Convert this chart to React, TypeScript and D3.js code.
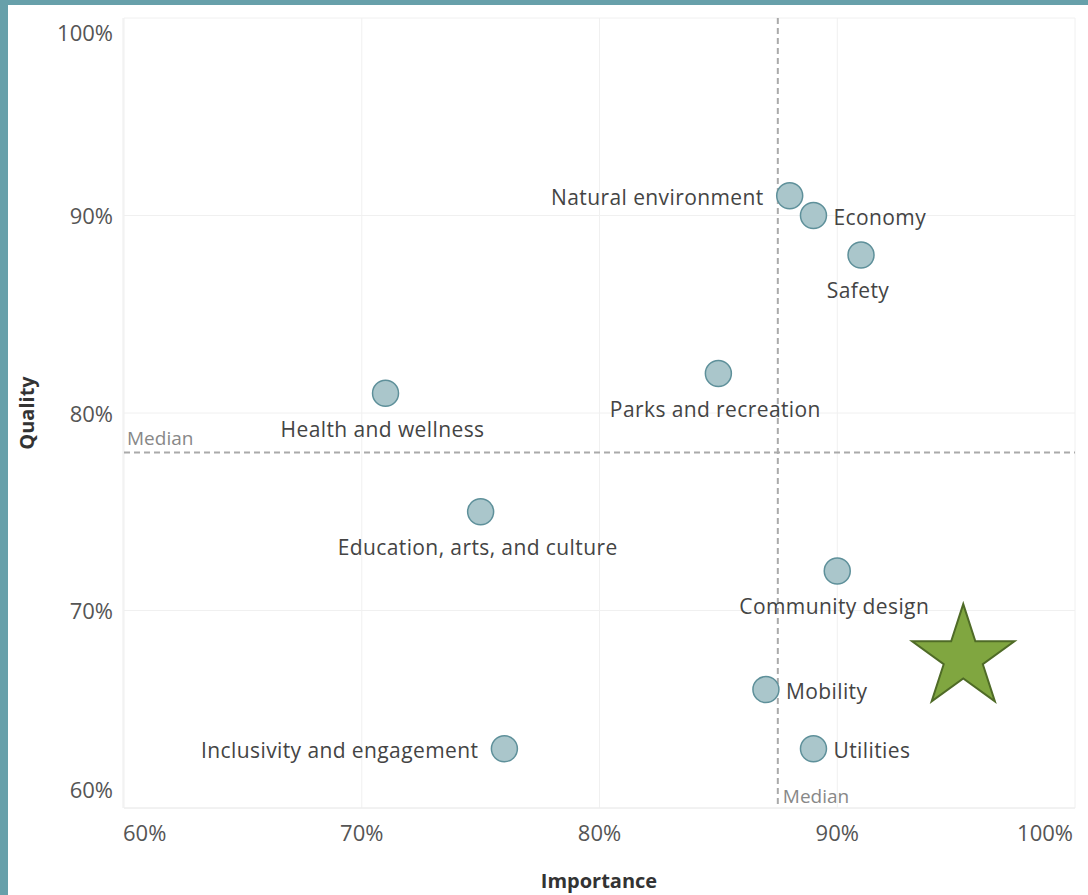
import React, { useEffect, useRef } from "react";
import * as d3 from "d3";

const categories = [
  "Natural environment",
  "Economy",
  "Safety",
  "Parks and recreation",
  "Health and wellness",
  "Education, arts, and culture",
  "Community design",
  "Mobility",
  "Utilities",
  "Inclusivity and engagement",
];
const importance = [0.88, 0.89, 0.91, 0.85, 0.71, 0.75, 0.9, 0.87, 0.89, 0.76];
const quality = [0.91, 0.9, 0.88, 0.82, 0.81, 0.75, 0.72, 0.66, 0.63, 0.63];
// where the label sits relative to its mark
const labelSide = ["left", "right", "below", "below", "below", "below", "below", "right", "right", "left"];
const ticks = [0.6, 0.7, 0.8, 0.9, 1.0];
const starAt = [0.953, 0.676];

const W = 1088;
const H = 895;

const App: React.FC = () => {
  const svgRef = useRef<SVGSVGElement>(null);

  useEffect(() => {
    const svg = d3.select(svgRef.current);
    svg.selectAll("*").remove();

    const x = d3.scaleLinear().domain([0.6, 1.0]).range([124, 1075]);
    const y = d3.scaleLinear().domain([0.6, 1.0]).range([808, 18]);
    const fmt = d3.format(".0%");
    const font = "'Open Sans', sans-serif";

    svg.append("rect").attr("width", W).attr("height", H).attr("fill", "#fff");
    // teal frame
    svg.append("rect").attr("width", W).attr("height", 5).attr("fill", "#67a0aa");
    svg.append("rect").attr("width", 8).attr("height", H).attr("fill", "#67a0aa");

    // grid
    const g = svg.append("g");
    ticks.forEach((t) => {
      g.append("line")
        .attr("x1", x(t)).attr("x2", x(t))
        .attr("y1", y(1)).attr("y2", y(0.6))
        .attr("stroke", "#f0f0f0");
      g.append("line")
        .attr("x1", x(0.6)).attr("x2", x(1))
        .attr("y1", y(t)).attr("y2", y(t))
        .attr("stroke", "#f0f0f0");
    });
    g.append("line").attr("x1", x(0.6) - 1).attr("x2", x(0.6) - 1)
      .attr("y1", y(1)).attr("y2", y(0.6)).attr("stroke", "#ececec");
    g.append("line").attr("x1", x(0.6)).attr("x2", x(1))
      .attr("y1", y(0.6)).attr("y2", y(0.6)).attr("stroke", "#ececec");

    // tick labels
    ticks.forEach((t, i) => {
      svg.append("text")
        .attr("x", 113)
        .attr("y", i === 0 ? y(t) - 18 : i === ticks.length - 1 ? y(t) + 15 : y(t) + 1)
        .attr("dy", "0.35em")
        .attr("text-anchor", "end")
        .attr("font-family", font).attr("font-size", 22).attr("fill", "#555")
        .text(fmt(t));
      svg.append("text")
        .attr("x", i === 0 ? x(t) - 1 : i === ticks.length - 1 ? x(t) - 2 : x(t))
        .attr("y", 841)
        .attr("text-anchor", i === 0 ? "start" : i === ticks.length - 1 ? "end" : "middle")
        .attr("font-family", font).attr("font-size", 22).attr("fill", "#555")
        .text(fmt(t));
    });

    // axis titles
    svg.append("text")
      .attr("transform", `translate(34,${(y(0.6) + y(1)) / 2}) rotate(-90)`)
      .attr("text-anchor", "middle")
      .attr("font-family", font).attr("font-size", 20).attr("font-weight", "bold").attr("fill", "#333")
      .text("Quality");
    svg.append("text")
      .attr("x", 599).attr("y", 888)
      .attr("text-anchor", "middle")
      .attr("font-family", font).attr("font-size", 20).attr("font-weight", "bold").attr("fill", "#333")
      .text("Importance");

    // median reference lines
    const medX = d3.median(importance) as number;
    const medY = d3.median(quality) as number;
    svg.append("line")
      .attr("x1", x(medX)).attr("x2", x(medX))
      .attr("y1", y(1)).attr("y2", y(0.6))
      .attr("stroke", "#aaa").attr("stroke-width", 2).attr("stroke-dasharray", "6,4");
    svg.append("line")
      .attr("x1", x(0.6)).attr("x2", x(1))
      .attr("y1", y(medY)).attr("y2", y(medY))
      .attr("stroke", "#aaa").attr("stroke-width", 2).attr("stroke-dasharray", "6,4");
    svg.append("text")
      .attr("x", x(0.6) + 3).attr("y", y(medY) - 8)
      .attr("font-family", font).attr("font-size", 19).attr("fill", "#888")
      .text("Median");
    svg.append("text")
      .attr("x", x(medX) + 5).attr("y", y(0.6) - 5)
      .attr("font-family", font).attr("font-size", 19).attr("fill", "#888")
      .text("Median");

    // points
    categories.forEach((c, i) => {
      const cx = x(importance[i]);
      const cy = y(quality[i]);
      svg.append("circle")
        .attr("cx", cx).attr("cy", cy).attr("r", 13)
        .attr("fill", "#aac6cb").attr("stroke", "#5e909a").attr("stroke-width", 1.5);
      const side = labelSide[i];
      const t = svg.append("text")
        .attr("font-family", font).attr("font-size", 21).attr("letter-spacing", 0.4).attr("fill", "#444")
        .text(c);
      if (side === "left") {
        t.attr("x", cx - 26).attr("y", cy + 2).attr("dy", "0.35em").attr("text-anchor", "end");
      } else if (side === "right") {
        t.attr("x", cx + 20).attr("y", cy + 2).attr("dy", "0.35em").attr("text-anchor", "start");
      } else {
        t.attr("x", cx - 3).attr("y", cy + 36).attr("dy", "0.35em").attr("text-anchor", "middle");
      }
    });

    // star annotation
    const star = d3.symbol().type(d3.symbolStar).size(3250);
    svg.append("path")
      .attr("d", star() as string)
      .attr("transform", `translate(${x(starAt[0])},${y(starAt[1])})`)
      .attr("fill", "#80a640").attr("stroke", "#4f6b27").attr("stroke-width", 2);
  }, []);

  return (
    <svg
      ref={svgRef}
      width={W}
      height={H}
      style={{ position: "absolute", left: 0, top: 0, display: "block" }}
    />
  );
};

export default App;
